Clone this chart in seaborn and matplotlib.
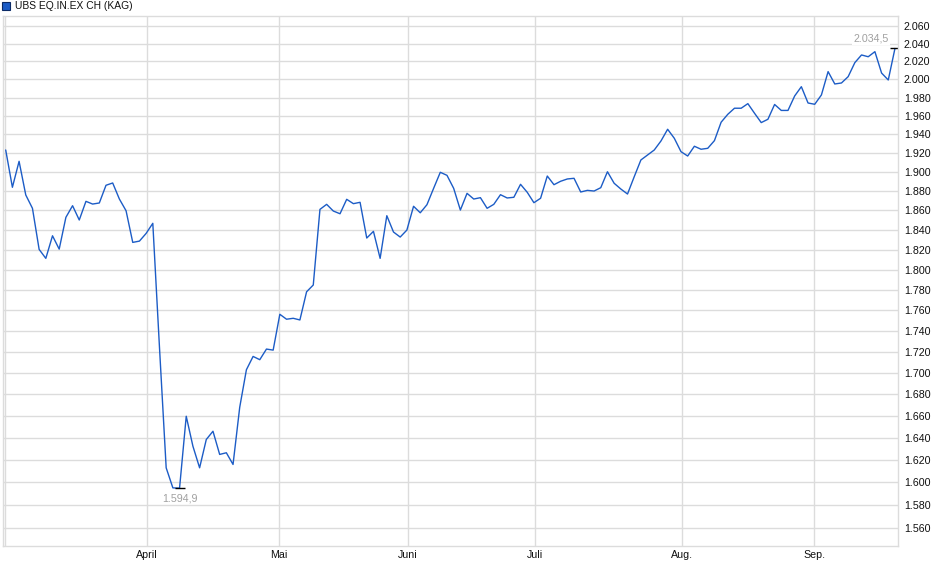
import numpy as np
import pandas as pd
import matplotlib
matplotlib.use("Agg")
import matplotlib.pyplot as plt
import matplotlib.ticker as mticker
import seaborn as sns

prices = [
    1923.3, 1884.0, 1911.3, 1876.0, 1862.2, 1820.3, 1811.3, 1834.1, 1820.6, 1852.9,
    1864.9, 1850.2, 1869.4, 1866.6, 1867.7, 1886.1, 1888.5, 1871.8, 1859.7, 1827.4,
    1828.7, 1836.5, 1846.8, 1724.0, 1613.0, 1595.2, 1594.9, 1659.7, 1632.4, 1613.0,
    1638.5, 1646.0, 1625.0, 1626.5, 1616.0, 1668.0, 1703.0, 1715.6, 1712.5, 1722.6,
    1721.6, 1756.1, 1751.3, 1752.2, 1750.6, 1778.1, 1784.8, 1861.1, 1866.3, 1859.4,
    1856.6, 1871.5, 1867.0, 1868.4, 1831.8, 1838.6, 1811.3, 1854.6, 1837.9, 1832.8,
    1839.9, 1864.3, 1857.6, 1865.9, 1882.9, 1899.7, 1896.5, 1882.9, 1860.4, 1877.7,
    1871.8, 1873.2, 1862.2, 1866.3, 1876.3, 1872.9, 1873.6, 1887.1, 1878.8, 1868.0,
    1872.6, 1895.8, 1886.7, 1890.3, 1892.7, 1893.4, 1879.1, 1880.8, 1880.1, 1883.6,
    1900.3, 1888.2, 1882.2, 1877.0, 1895.0, 1912.7, 1918.0, 1923.3, 1932.9, 1945.5,
    1935.8, 1921.5, 1916.9, 1927.3, 1924.1, 1925.1, 1933.3, 1953.1, 1961.7, 1968.3,
    1968.3, 1973.3, 1962.8, 1952.7, 1956.3, 1972.4, 1965.9, 1965.9, 1981.7, 1991.9,
    1974.0, 1972.6, 1982.8, 2008.6, 1994.9, 1996.0, 2003.0, 2018.6, 2027.2, 2025.2,
    2030.9, 2007.0, 1999.3, 2034.5,
]
month_labels = ["April", "Mai", "Juni", "Juli", "Aug.", "Sep."]
month_pos = [21.1, 40.9, 60.1, 79.1, 101.1, 120.9]
y_ticks = list(range(1560, 2061, 20))
title = "UBS EQ.IN.EX CH (KAG)"

df = pd.DataFrame({"idx": np.arange(len(prices)), "kurs": prices})

sns.set_style("white")
plt.rcParams["font.family"] = ["Liberation Sans", "DejaVu Sans"]

grid_col = "#dcdcdc"
line_col = "#1c5cc6"


def de_fmt(v):
    # 1594.9 -> "1.594,9"
    return f"{v:,.1f}".replace(",", "X").replace(".", ",").replace("X", ".")


fig = plt.figure(figsize=(9.4, 5.79), dpi=100)
ax = fig.add_axes([2.7 / 940, 33.5 / 579, 895.6 / 940, 529.5 / 579])

sns.lineplot(data=df, x="idx", y="kurs", ax=ax, color=line_col, linewidth=1.0)

ax.set_yscale("log")
ax.set_ylim(1545.1, 2071.4)
ax.set_xlim(-0.45, 133.5)
ax.yaxis.set_minor_locator(mticker.NullLocator())
ax.set_yticks(y_ticks)
ax.yaxis.set_major_formatter(mticker.FuncFormatter(lambda v, p: f"{v:,.0f}".replace(",", ".")))
ax.yaxis.tick_right()
ax.set_xticks(month_pos)
ax.set_xticklabels(month_labels)
ax.set_xticks([-0.1], minor=True)

ax.tick_params(axis="y", which="both", length=0, pad=4, labelsize=7.7, colors="#111111")
ax.tick_params(axis="x", which="both", length=0, pad=3, labelsize=7.7, colors="#111111")
ax.grid(True, which="both", color=grid_col, linewidth=1.0)
for s in ax.spines.values():
    s.set_color(grid_col)
    s.set_linewidth(1.0)
ax.set_xlabel("")
ax.set_ylabel("")

# Tief und Hoch markieren
i_min = int(np.argmin(prices))
i_max = int(np.argmax(prices))
ax.plot([i_min, i_max], [prices[i_min], prices[i_max]], linestyle="none",
        marker="_", markersize=6.5, markeredgewidth=1.0, color="black")
ax.annotate(de_fmt(prices[i_min]), (i_min, prices[i_min]), xytext=(0, -7.5),
            textcoords="offset points", ha="center", va="center",
            fontsize=7.7, color="#a0a0a0")
ax.annotate(de_fmt(prices[i_max]), (i_max, prices[i_max]), xytext=(-4.5, 7),
            textcoords="offset points", ha="right", va="center",
            fontsize=7.7, color="#a0a0a0",
            bbox=dict(boxstyle="square,pad=0.15", fc="white", ec="none"))

# Legende oben links
fig.patches.append(plt.Rectangle((2 / 940, 1 - 9.5 / 579), 7.5 / 940, 7.5 / 579,
                                 transform=fig.transFigure, fc=line_col, ec="#0b2a66", lw=0.8))
fig.text(15 / 940, 1 - 6 / 579, title, ha="left", va="center", fontsize=7.4, color="#111111")

fig.savefig("out.png", dpi=100)
